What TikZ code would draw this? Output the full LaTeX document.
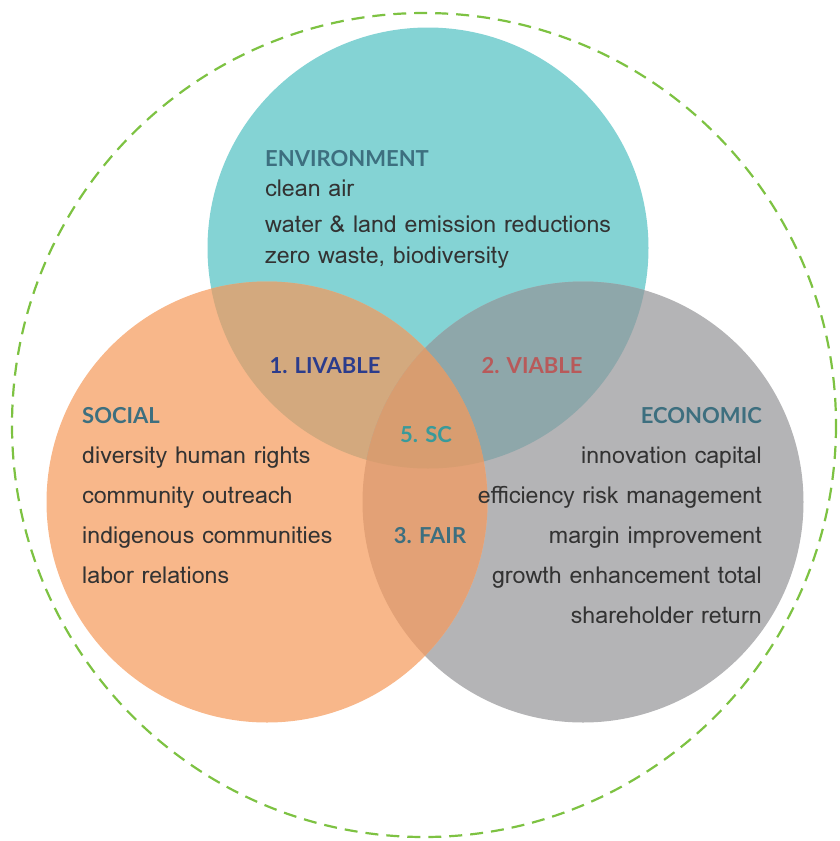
\documentclass[tikz,border=0pt]{standalone}
\usepackage{fontspec}
\setmainfont{Loma}
\newfontfamily\headfont{Lato}
\definecolor{teal1}{HTML}{84D3D4}
\definecolor{orng}{HTML}{F8B78A}
\definecolor{gry}{HTML}{B4B4B6}
\definecolor{tlov}{HTML}{D3A97E}
\definecolor{trov}{HTML}{8EA7AA}
\definecolor{bov}{HTML}{E3A176}
\definecolor{cov}{HTML}{D89D70}
\definecolor{headc}{HTML}{3D6F7F}
\definecolor{bodyc}{HTML}{333333}
\definecolor{livc}{HTML}{2B3C8C}
\definecolor{viac}{HTML}{B85A5A}
\definecolor{scc}{HTML}{3A9A9A}
\definecolor{dashc}{HTML}{7DC242}
\begin{document}
\begin{tikzpicture}[x=1pt,y=-1pt,
  head/.style={font=\headfont\bfseries\fontsize{22}{22}\selectfont, text=headc, inner sep=0pt},
  body/.style={font=\fontsize{23.2}{23.2}\selectfont, text=bodyc, inner sep=0pt},
  lab/.style={font=\headfont\bfseries\fontsize{22}{22}\selectfont, inner sep=0pt}]
\useasboundingbox (0,0) rectangle (840,841);
\def\R{220.5}
% circles
\fill[teal1] (428,248) circle (\R);
\fill[gry] (583,502) circle (\R);
\fill[orng] (267,502) circle (\R);
\begin{scope}
  \clip (428,248) circle (\R);
  \fill[tlov] (267,502) circle (\R);
  \fill[trov] (583,502) circle (\R);
\end{scope}
\begin{scope}
  \clip (267,502) circle (\R);
  \fill[bov] (583,502) circle (\R);
  \clip (583,502) circle (\R);
  \fill[cov] (428,248) circle (\R);
\end{scope}
\draw[dashc, line width=2.2pt, dash pattern=on 13pt off 8pt] (424,425) circle (412);
% environment
\node[head, anchor=base west] (envh) at (265,166) {ENVIRONMENT};
\node[body, anchor=base west] (env1) at (265,196) {clean air};
\node[body, anchor=base west] (env2) at (265,232) {water \& land emission reductions};
\node[body, anchor=base west] (env3) at (265,263) {zero waste, biodiversity};
% social
\node[head, anchor=base west] (soch) at (82,423) {SOCIAL};
\node[body, anchor=base west] (soc1) at (82,463) {diversity human rights};
\node[body, anchor=base west] (soc2) at (82,503) {community outreach};
\node[body, anchor=base west] (soc3) at (82,543) {indigenous communities};
\node[body, anchor=base west] (soc4) at (82,583) {labor relations};
% economic
\node[head, anchor=base east] (ecoh) at (762,423) {ECONOMIC};
\node[body, anchor=base east] (eco1) at (762,463) {innovation capital};
\node[body, anchor=base east] (eco2) at (762,503) {efficiency risk management};
\node[body, anchor=base east] (eco3) at (762,543) {margin improvement};
\node[body, anchor=base east] (eco4) at (762,583) {growth enhancement total};
\node[body, anchor=base east] (eco5) at (762,623) {shareholder return};
% overlaps
\node[lab, text=livc, anchor=base] (liv) at (325,373) {1. LIVABLE};
\node[lab, text=viac, anchor=base] (via) at (532,373) {2. VIABLE};
\node[lab, text=scc, anchor=base] (sc) at (426,442) {5. SC};
\node[lab, text=headc, anchor=base] (fair) at (430,543) {3. FAIR};
\end{tikzpicture}
\end{document}
